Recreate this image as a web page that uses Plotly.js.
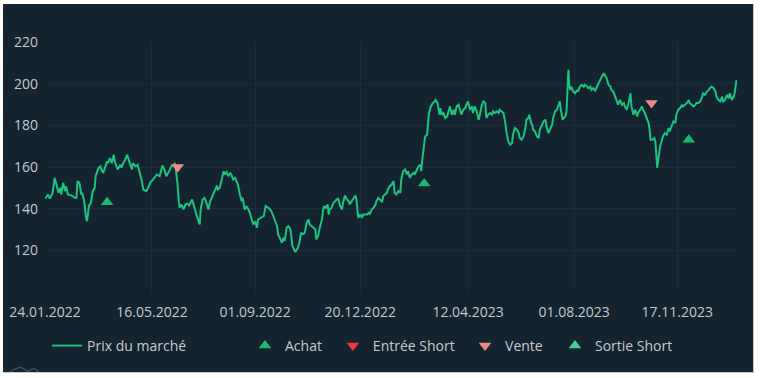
<!DOCTYPE html>
<html><head><meta charset="utf-8">
<script src="https://cdn.plot.ly/plotly-3.0.1.min.js"></script>
<style>
html,body{margin:0;padding:0;background:#ffffff;}
#frame{position:absolute;left:3px;top:4px;width:750px;height:368px;border-right:1px solid #c4c8cc;border-bottom:1px solid #c4c8cc;}
#chart{width:750px;height:368px;}
</style></head><body><div id="frame"><div id="chart"></div></div>
<script>
// Series start date; price points given as day offsets from it
const startDate = '2022-01-24';
const priceDays = [
0,1,3,5,8,10,12,14,16,17,
19,21,22,24,28,31,33,34,36,38,
39,41,43,44,46,48,50,52,53,56,
58,59,61,63,65,66,68,70,72,73,
76,79,80,82,84,86,88,91,92,95,
97,99,101,103,106,108,110,113,117,120,
123,125,127,130,133,134,136,137,139,140,
141,143,145,147,149,151,154,155,157,159,
162,163,165,167,169,171,173,175,178,180,
181,183,185,187,188,190,192,194,195,197,
199,201,202,204,206,207,209,211,213,215,
216,218,220,222,223,226,229,231,234,237,
239,
241,243,244,246,248,250,251,253,255,257,
258,259,262,264,265,267,268,270,272,274,
276,277,279,281,283,284,286,288,290,291,
292,294,296,297,298,300,302,304,305,307,
309,311,312,314,316,318,319,321,323,325,
326,327,328,330,332,333,337,339,340,342,
344,346,347,349,351,353,354,356,358,359,
361,363,365,366,368,370,372,373,375,377,
379,380,382,384,386,387,389,391,393,394,
395,397,398,400,401,402,404,406,408,409,
411,413,414,415,417,419,421,422,424,426,
428,429,431,433,435,436,438,440,442,443,
445,447,448,450,452,454,455,457,459,461,
462,464,466,468,469,471,473,475,476,478,
480,
482,483,485,487,489,490,492,494,496,497,
499,501,503,504,506,507,509,510,511,513,
515,517,518,520,522,524,525,527,529,531,
532,534,536,537,539,540,542,543,545,546,
548,549,550,551,553,555,557,558,560,562,
564,565,567,569,571,572,574,576,578,579,
581,583,585,586,588,590,592,593,595,597,
599,600,
602,604,606,607,609,611,613,614,616,618,
620,621,623,625,626,628,630,632,633,634,
636,638,639,640,641,643,644,646,647,649,
651,653,654,656,658,660,661,663,665,667,
668,670,672,674,675,677,679,681,682,684,
686,688,689,691,693,695,696,698,700,702,
703,705,707,709,710,712,714,716,717,719,
721,722,724
];
const prices = [
145,145.2,146.8,144.9,147.6,154.8,151.6,147.6,150,146.8,
152.4,148.4,150.8,146.8,146.3,145.2,145.2,153.2,152.4,146.8,
147.6,143.6,135.6,134,141.2,142.8,148.4,150,155.6,159.6,
160.3,158.8,157.2,159.6,162.7,161.9,164.3,161.9,165.9,162.7,
158.8,161.1,159.6,161.9,163.5,165.9,162.7,158.8,161.9,160.3,
161.1,158,154,149.2,148.4,150,152.4,154,156.4,155.6,
160.7,158.8,155.6,158,161.1,160.3,161.9,158.8,150.8,143.6,
140.4,142,139.6,142,142.4,141.6,144.4,142.8,138.8,136.4,
132.4,139.6,144.4,145.2,142.8,139.6,143.6,146,149.2,151.1,
149.2,150,154,158,156.4,157.6,155.6,157.2,156.4,154,
154.8,152.4,151.6,146.8,143.6,145.2,139.6,141.2,139.6,137.2,
135.6,132.4,134,130.9,134.8,135.6,136.4,141.2,140.4,138.8,
136.4,
134.8,131.6,127.7,125.3,123.7,126.1,124.5,130.9,131.6,130.1,
125.3,122.1,119.2,120.4,121.3,125.3,128.5,127.7,128.5,133.3,
134.8,132.4,131.6,130.9,130.1,125.3,126.9,131.6,134.8,138.8,
141.2,140.4,142,137.2,139.6,140.4,142.8,143.6,144.4,144.8,
141.2,139.6,142.8,146.3,144.4,143.6,142,143.6,145.2,146.3,
144.4,140.4,135.6,137.2,135.6,137.2,137.2,138,137.2,139.6,
140.4,142,143.6,145.2,144.4,143.2,146,146.8,147.6,149.2,
150.8,151.6,153.2,147.6,146.8,148.4,147.6,154,158,158.8,
156.4,158,154.8,156.4,157.2,156.4,158.8,160.3,161.1,158,
163.5,169.9,174.7,175.5,180.3,185.9,189.1,190.7,191.5,192.2,
190.7,185.1,188.3,185.1,185.9,183.5,184.3,185.9,189.1,185.1,
187.5,185.1,189.1,189.9,186.7,185.1,187.5,188.3,190.7,191.5,
187.5,189.1,185.9,189.1,186.7,182.7,184.3,189.1,191.5,190.7,
183.5,185.1,185.9,185.1,186.7,185.9,186.7,185.9,187.5,186.7,
185.9,
181.1,177.1,172.3,170.7,171.5,175.5,178.7,177.9,176.3,173.9,
173.1,174.7,178.7,182.7,183.5,185.1,181.1,180.3,177.9,177.1,
174.7,173.9,177.9,180.3,181.9,182.7,179.5,176.3,178.7,180.3,
183.5,186.7,187.5,189.1,191.5,187.5,182.7,183.5,184.3,186.7,
206.6,198.6,197,198.6,196.2,195.4,197,196.2,198.6,199.4,
198.6,199.4,198.9,197.8,198.6,197,197.8,196.7,198.6,200.2,
201.8,203.4,205,204.2,202.6,199.4,198.6,197,196.2,193.8,
191.5,189.9,
192.2,189.9,190.7,189.1,187.5,190.7,195.4,189.1,185.1,187.5,
184.3,185.9,187.5,189.1,187.5,185.9,183.5,181.1,177.9,173.1,
173.1,173.9,172.3,166.7,159.6,166.7,169.9,173.1,174.7,176.3,
175.5,178.7,177.1,179.5,181.9,181.1,185.1,187.5,188.3,189.9,
189.1,189.9,190.7,192.2,190.7,189.9,189.1,189.9,190.7,190.7,
191.5,193.8,195.4,194.6,196.2,197,197.8,198.6,197.8,196.2,
193.8,192.2,191.5,193.8,191.5,192.2,194.6,193,195.4,192.2,
193.8,195.4,201.8
];

// Trade signals (no short trades in this period)
const achatDates = ['2022-03-30', '2023-02-25', '2023-11-29'];
const achatPrices = [143.1, 152.1, 173.1];
const venteDates = ['2022-06-12', '2023-10-21'];
const ventePrices = [160, 190.7];
const entreeShortDates = [null];
const entreeShortPrices = [null];
const sortieShortDates = [null];
const sortieShortPrices = [null];

// Axis ticks
const xTickDates = ['2022-01-24','2022-05-16','2022-09-01','2022-12-20','2023-04-12','2023-08-01','2023-11-17'];
const xTickLabels = ['24.01.2022','16.05.2022','01.09.2022','20.12.2022','12.04.2023','01.08.2023','17.11.2023'];
const yTickVals = [100,120,140,160,180,200,220];
const yTickLabels = ['','120','140','160','180','200','220'];

const base = Date.parse(startDate + 'T00:00:00Z');
const priceDates = priceDays.map(d => new Date(base + d*86400000).toISOString().slice(0,10));

const FONT = {family:'"Open Sans", "DejaVu Sans", sans-serif', size:14, color:'#c6cacf'};

const traces = [
  {type:'scatter', mode:'lines', name:'Prix du marché', x:priceDates, y:prices,
   line:{color:'#1cc27e', width:2}, legend:'legend', hoverinfo:'skip'},
  {type:'scatter', mode:'markers', name:'Achat', x:achatDates, y:achatPrices,
   marker:{symbol:'triangle-up', size:11, color:'#1bb873'}, legend:'legend2'},
  {type:'scatter', mode:'markers', name:'Entrée Short', x:entreeShortDates, y:entreeShortPrices,
   marker:{symbol:'triangle-down', size:11, color:'#f23a3a'}, legend:'legend3'},
  {type:'scatter', mode:'markers', name:'Vente', x:venteDates, y:ventePrices,
   marker:{symbol:'triangle-down', size:11, color:'#f28985'}, legend:'legend4'},
  {type:'scatter', mode:'markers', name:'Sortie Short', x:sortieShortDates, y:sortieShortPrices,
   marker:{symbol:'triangle-up', size:11, color:'#4dcb96'}, legend:'legend5'}
];

function legendAt(x){
  return {orientation:'h', x:x, xanchor:'left', yref:'container', y:0.0707, yanchor:'middle',
    font:FONT, bgcolor:'rgba(0,0,0,0)'};
}

const layout = {
  width:750, height:368,
  paper_bgcolor:'#132330', plot_bgcolor:'#132330',
  margin:{l:42, r:16, t:38, b:80},
  font:FONT,
  showlegend:true,
  xaxis:{type:'date', range:['2022-01-24','2024-01-18 12:00'],
    tickmode:'array', tickvals:xTickDates, ticktext:xTickLabels,
    showgrid:true, gridcolor:'#1b2d39', gridwidth:1, zeroline:false, showline:false,
    ticks:'', ticklabelstandoff:10, tickfont:FONT, automargin:false},
  yaxis:{range:[100,220], tickmode:'array', tickvals:yTickVals, ticktext:yTickLabels,
    showgrid:true, gridcolor:'#1b2d39', gridwidth:1, zeroline:false, showline:false,
    ticks:'', ticklabelstandoff:6, tickfont:FONT, automargin:false},
  legend:legendAt(0.003),
  legend2:legendAt(0.289),
  legend3:legendAt(0.416),
  legend4:legendAt(0.607),
  legend5:legendAt(0.737),
  shapes:[
    {type:'path', xref:'paper', yref:'paper', layer:'above',
     path:'M -0.058,-0.335 L -0.045,-0.31 L -0.035,-0.3 L -0.025,-0.318 L -0.016,-0.305 L -0.005,-0.33 L 0.0,-0.335',
     line:{color:'rgba(140,150,160,0.35)', width:1.5}}
  ]
};

Plotly.newPlot('chart', traces, layout, {displayModeBar:false, staticPlot:true});
</script>
</body></html>
